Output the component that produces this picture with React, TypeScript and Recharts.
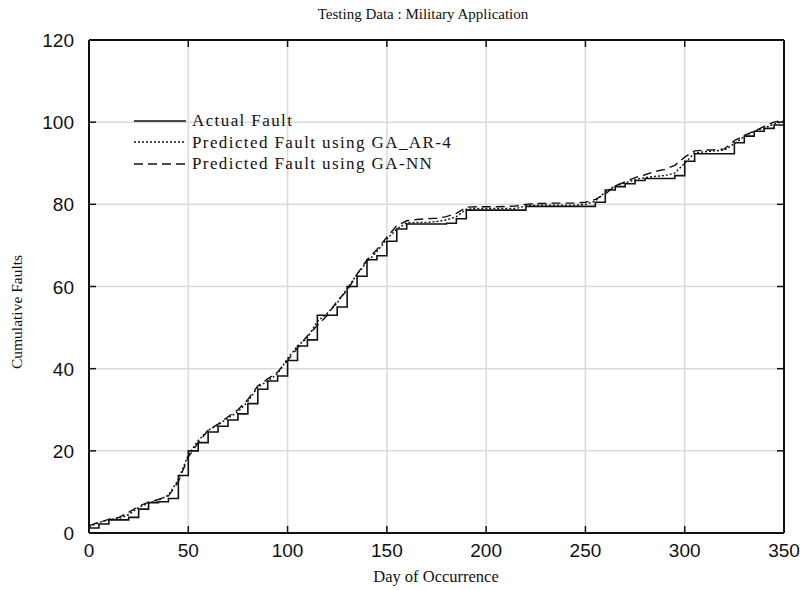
import { LineChart, Line, XAxis, YAxis, CartesianGrid, Legend } from 'recharts';

// day of occurrence (every 5 days)
const days = [
  0, 5, 10, 15, 20, 25, 30, 35, 40, 45,
  50, 55, 60, 65, 70, 75, 80, 85, 90, 95,
  100, 105, 110, 115, 120, 125, 130, 135, 140, 145,
  150, 155, 160, 165, 170, 175, 180, 185, 190, 195,
  200, 205, 210, 215, 220, 225, 230, 235, 240, 245,
  250, 255, 260, 265, 270, 275, 280, 285, 290, 295,
  300, 305, 310, 315, 320, 325, 330, 335, 340, 345,
  350,
];

const actualFault = [
  1.2, 2.2, 3.2, 3.2, 3.8, 5.8, 7.4, 7.6, 8.4, 14,
  20, 22, 24.6, 26, 27.5, 29, 31.5, 35, 37, 38.2,
  42, 45.5, 47, 53, 53, 55, 60, 62.5, 66.5, 67.5,
  71, 74, 75.2, 75.2, 75.2, 75.2, 75.4, 76.5, 78.6, 78.6,
  78.6, 78.6, 78.6, 78.6, 79.5, 79.5, 79.5, 79.5, 79.5, 79.5,
  79.5, 80.5, 83.5, 84.3, 85, 85.8, 86.3, 86.3, 86.3, 87,
  90.5, 92.3, 92.3, 92.3, 92.3, 95, 96.6, 97.8, 98.5, 99.3,
  100.3,
];

const gaAr4Fault = [
  1.5, 2.5, 3.3, 3.5, 4.5, 6.2, 7.3, 8, 9.2, 13,
  19, 22.5, 25, 26.3, 28, 29.5, 32, 35.5, 37, 38.8,
  42.5, 45.5, 47.5, 51.5, 53.5, 56, 59.5, 63, 66, 68.5,
  71.5, 74, 75.5, 75.6, 75.6, 75.8, 76.2, 77, 78.8, 79,
  79, 79, 79, 79, 79.6, 79.8, 79.8, 79.8, 79.8, 79.8,
  80, 80.8, 83, 84.5, 85.2, 86, 86.5, 86.8, 87, 87.6,
  90, 92.5, 92.8, 93, 93.2, 94.8, 96.5, 97.8, 98.6, 99.5,
  100.3,
];

const gaNnFault = [
  1.8, 2.6, 3.3, 3.8, 5, 6.5, 7.5, 8.2, 9, 12.5,
  18.5, 22, 25, 26.5, 28.3, 30, 32.5, 35.8, 37.5, 39.2,
  42, 45, 48, 50.5, 53, 56.5, 59, 63, 66.5, 69,
  72, 74.8, 76, 76.3, 76.5, 76.6, 77, 77.8, 79.3, 79.4,
  79.4, 79.4, 79.5, 79.6, 80, 80.2, 80.2, 80.3, 80.3, 80.3,
  80.5, 81.2, 82.5, 84.5, 85.5, 86.5, 87.2, 88, 88.5, 89.5,
  91.5, 93, 93.2, 93.3, 93.5, 95.5, 96.8, 97.8, 99, 100,
  100.5,
];

const dayTicks = [0, 50, 100, 150, 200, 250, 300, 350];
const faultTicks = [0, 20, 40, 60, 80, 100, 120];
const seriesNames = ['Actual Fault', 'Predicted Fault using GA_AR-4', 'Predicted Fault using GA-NN'];

const data = days.map((day, i) => ({
  day,
  actual: actualFault[i],
  ar4: gaAr4Fault[i],
  nn: gaNnFault[i],
}));

const INK = '#111';
const SERIF = '"Liberation Serif", "Times New Roman", serif';
const SANS = '"Liberation Sans", Arial, sans-serif';
const TICK_LEN = 7;
const dashes = [undefined, '2 2', '9 5'];

// plot frame, follows from the chart margins and axis sizes below
const PLOT_LEFT = 89;
const PLOT_RIGHT = 784;
const PLOT_TOP = 40;
const PLOT_BOTTOM = 533;

const axisLine = { stroke: INK, strokeWidth: 2 };

// ticks point into the plot, labels sit outside
function BottomTick({ x, payload }: any) {
  return (
    <g>
      <line x1={x} y1={PLOT_BOTTOM} x2={x} y2={PLOT_BOTTOM - TICK_LEN} stroke={INK} strokeWidth={1.5} />
      <text x={x} y={PLOT_BOTTOM + 24} textAnchor="middle" fontFamily={SANS} fontSize={19} fill={INK}>
        {payload.value}
      </text>
    </g>
  );
}

function LeftTick({ y, payload }: any) {
  return (
    <g>
      <line x1={PLOT_LEFT} y1={y} x2={PLOT_LEFT + TICK_LEN} y2={y} stroke={INK} strokeWidth={1.5} />
      <text x={PLOT_LEFT - 15} y={y + 7} textAnchor="end" fontFamily={SANS} fontSize={19} fill={INK}>
        {payload.value}
      </text>
    </g>
  );
}

function TopTick({ x }: any) {
  return <line x1={x} y1={PLOT_TOP} x2={x} y2={PLOT_TOP + TICK_LEN} stroke={INK} strokeWidth={1.5} />;
}

function RightTick({ y }: any) {
  return <line x1={PLOT_RIGHT} y1={y} x2={PLOT_RIGHT - TICK_LEN} y2={y} stroke={INK} strokeWidth={1.5} />;
}

function renderLegend() {
  return (
    <div style={{ fontFamily: SERIF, fontSize: 17, letterSpacing: 1.4, color: INK, lineHeight: 1 }}>
      {seriesNames.map((name, i) => (
        <div key={name} style={{ display: 'flex', alignItems: 'center', height: 21.5 }}>
          <svg width={52} height={6} style={{ marginRight: 6 }}>
            <line x1={0} y1={3} x2={52} y2={3} stroke={INK} strokeWidth={1.5} strokeDasharray={dashes[i]} />
          </svg>
          <span>{name}</span>
        </div>
      ))}
    </div>
  );
}

function renderTexts() {
  return (
    <g>
      <text x={423} y={19} textAnchor="middle" fontFamily={SERIF} fontSize={15} fill={INK}>
        Testing Data : Military Application
      </text>
      <text x={436} y={582} textAnchor="middle" fontFamily={SERIF} fontSize={16.5} fill={INK}>
        Day of Occurrence
      </text>
    </g>
  );
}

export default function App() {
  return (
    <div style={{ position: 'absolute', left: 0, top: 0, background: '#fff' }}>
      <LineChart width={800} height={590} data={data} margin={{ top: 39, right: 15, bottom: 0, left: 0 }}>
        <CartesianGrid stroke="#dadada" strokeWidth={1.5} />
        <XAxis
          dataKey="day"
          type="number"
          domain={[0, 350]}
          ticks={dayTicks}
          interval={0}
          height={57}
          axisLine={axisLine}
          tickLine={false}
          tick={BottomTick}
          label={{ content: renderTexts }}
        />
        <XAxis
          xAxisId="top"
          orientation="top"
          dataKey="day"
          type="number"
          domain={[0, 350]}
          ticks={dayTicks}
          interval={0}
          height={1}
          axisLine={axisLine}
          tickLine={false}
          tick={TopTick}
        />
        <YAxis
          type="number"
          domain={[0, 120]}
          ticks={faultTicks}
          interval={0}
          width={89}
          axisLine={axisLine}
          tickLine={false}
          tick={LeftTick}
          label={{
            content: () => (
              <text
                x={22}
                y={312}
                transform="rotate(-90 22 312)"
                textAnchor="middle"
                fontFamily={SERIF}
                fontSize={15.5}
                fill={INK}
              >
                Cumulative Faults
              </text>
            ),
          }}
        />
        <YAxis
          yAxisId="right"
          orientation="right"
          type="number"
          domain={[0, 120]}
          ticks={faultTicks}
          interval={0}
          width={1}
          axisLine={axisLine}
          tickLine={false}
          tick={RightTick}
        />
        <Legend
          layout="vertical"
          align="center"
          verticalAlign="middle"
          content={renderLegend}
          wrapperStyle={{ left: 134, top: 110, width: 'auto', height: 'auto' }}
        />
        <Line type="stepAfter" dataKey="actual" name={seriesNames[0]} stroke={INK} strokeWidth={1.6} dot={false} isAnimationActive={false} />
        <Line type="linear" dataKey="ar4" name={seriesNames[1]} stroke={INK} strokeWidth={1.4} strokeDasharray="2 2" dot={false} isAnimationActive={false} />
        <Line type="linear" dataKey="nn" name={seriesNames[2]} stroke={INK} strokeWidth={1.4} strokeDasharray="9 5" dot={false} isAnimationActive={false} />
        {/* invisible copy so the top/right frame axes have a series bound to them */}
        <Line
          xAxisId="top"
          yAxisId="right"
          dataKey="actual"
          stroke="none"
          dot={false}
          activeDot={false}
          legendType="none"
          isAnimationActive={false}
        />
      </LineChart>
    </div>
  );
}
